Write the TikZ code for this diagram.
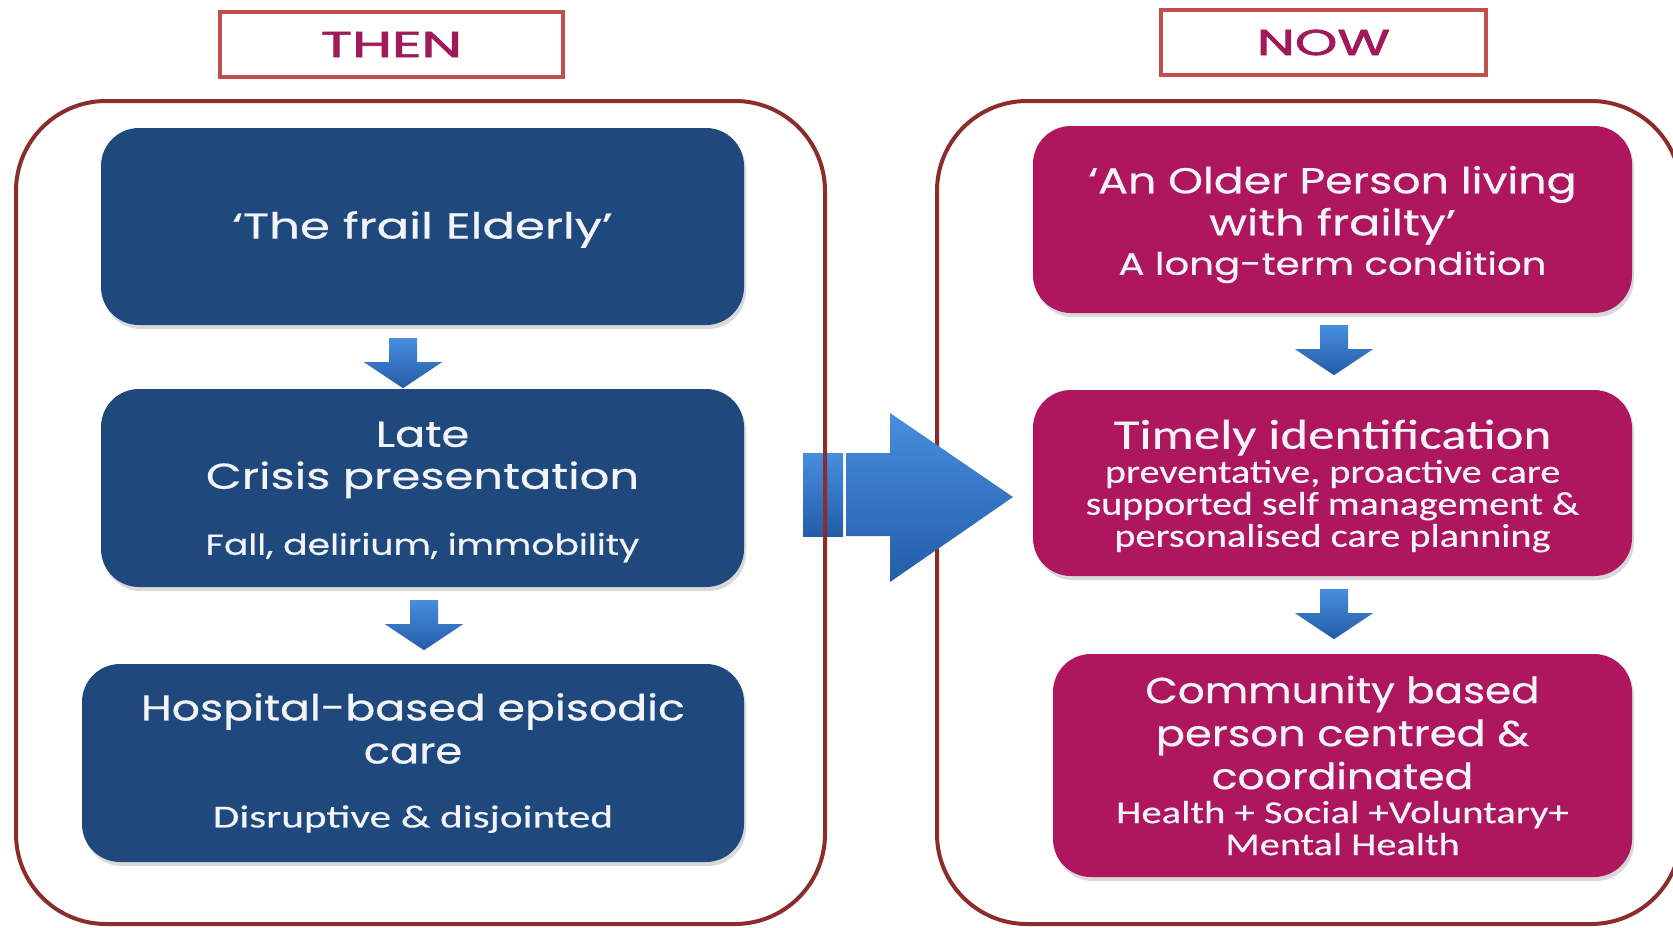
\documentclass[tikz,border=0pt]{standalone}
\usepackage{fontspec}
\setmainfont{Poppins}[FakeBold=0.5]
\newfontfamily\tagfont{Poppins}[FakeBold=1.8]
\newfontfamily\calib{Carlito}[FakeBold=0.3]
\usetikzlibrary{shadows,calc}

\definecolor{boxblue}{RGB}{31,73,125}
\definecolor{boxpink}{RGB}{174,22,94}
\definecolor{panelline}{RGB}{140,45,45}
\definecolor{tagline}{RGB}{192,80,77}
\definecolor{tagtext}{RGB}{160,25,90}
\definecolor{arrtop}{RGB}{72,142,222}
\definecolor{arrbot}{RGB}{36,92,168}
\definecolor{boxtext}{RGB}{242,244,250}

% stretch a line of text horizontally
\newcommand\sx[2]{\scalebox{#1}[1]{#2}}

\tikzset{
  tag/.style={draw=tagline, line width=3.5pt, fill=white, inner sep=0pt,
    text=tagtext, font=\tagfont\fontsize{36}{40}\selectfont},
  panel/.style={draw=panelline, line width=4pt, rounded corners=90pt, inner sep=0pt},
  card/.style={rounded corners=38pt, inner sep=0pt,
    drop shadow={shadow xshift=2pt, shadow yshift=-4pt, opacity=0.3}},
  bluecard/.style={card, fill=boxblue},
  pinkcard/.style={card, fill=boxpink},
  cardtext/.style={align=center, text=boxtext, inner sep=0pt},
  pics/blockdown/.style={code={
    \shade[top color=arrtop, bottom color=arrbot]
      (-14,0) -- (14,0) -- (14,24) -- (39,24) -- (0,50) -- (-39,24) -- (-14,24) -- cycle;}}
}

\begin{document}
\begin{tikzpicture}[x=1pt,y=-1pt]
\useasboundingbox (0,0) rectangle (1673,927);
\clip (0,0) rectangle (1673,927);

% headings
\node[tag, minimum width=343pt, minimum height=65pt] (then) at (391.5,44.5) {\sx{1.6}{THEN}};
\node[tag, minimum width=325pt, minimum height=65pt] (now) at (1323.5,42.5) {\sx{1.5}{NOW}};

% right panel sits beneath the transition arrow
\node[panel, minimum width=744pt, minimum height=823pt] (nowpanel) at (1309,512.5) {};

% transition arrow between the two panels
\shade[top color=arrtop, bottom color=arrbot]
  (846,453) -- (890,453) -- (890,413) -- (1013,497) -- (890,582) -- (890,536) -- (846,536) -- cycle;
\shade[top color=arrtop, bottom color=arrbot] (803,453) rectangle (843,536);

% left panel
\node[panel, minimum width=809pt, minimum height=823pt] (thenpanel) at (420.5,512.5) {};

% THEN column
\node[bluecard, minimum width=643pt, minimum height=197pt] (b1) at (422.5,226.5) {};
\node[bluecard, minimum width=643pt, minimum height=198pt] (b2) at (422.5,488) {};
\node[bluecard, minimum width=662pt, minimum height=198pt] (b3) at (413,763) {};

\node[cardtext, font=\fontsize{36}{44}\selectfont] (b1t) at ($(b1)+(0,3)$)
  {\sx{1.34}{‘The frail Elderly’}};
\node[cardtext, font=\fontsize{36}{42}\selectfont] (b2t) at ($(b2)+(0,4)$)
  {\sx{1.24}{Late}\\\sx{1.29}{Crisis presentation}\\[24pt]{\fontsize{29}{42}\selectfont\sx{1.25}{Fall, delirium, immobility}}};
\node[cardtext, font=\fontsize{36}{43}\selectfont] (b3t) at ($(b3)+(0,0)$)
  {\sx{1.23}{Hospital-based episodic}\\\sx{1.2}{care}\\[21pt]{\calib\fontsize{32}{43}\selectfont\sx{1.35}{Disruptive \& disjointed}}};

\pic at ($(b1.south)+(-19.5,13)$) {blockdown};
\pic at ($(b2.south)+(1.5,13)$) {blockdown};

% NOW column
\node[pinkcard, minimum width=599pt, minimum height=187pt] (p1) at (1332.5,219.5) {};
\node[pinkcard, minimum width=599pt, minimum height=186pt] (p2) at (1332.5,483) {};
\node[pinkcard, minimum width=579pt, minimum height=223pt] (p3) at (1342.5,765.5) {};

\node[cardtext, font=\fontsize{36}{42}\selectfont] (p1t) at ($(p1)+(0,5)$)
  {\sx{1.23}{‘An Older Person living}\\\sx{1.28}{with frailty’}\\[-2.5pt]{\fontsize{31}{42}\selectfont\sx{1.25}{A long-term condition}}};
\node[cardtext, font=\calib\fontsize{33}{32}\selectfont] (p2t) at ($(p2)+(0,3)$)
  {{\fontsize{42}{32}\selectfont\sx{1.26}{Timely identification}}\\[2pt]\sx{1.22}{preventative, proactive care}\\\sx{1.21}{supported self management \&}\\\sx{1.22}{personalised care planning}};
\node[cardtext, font=\fontsize{36}{43}\selectfont] (p3t) at ($(p3)+(0,0)$)
  {\sx{1.17}{Community based}\\\sx{1.2}{person centred \&}\\\sx{1.18}{coordinated}\\[-9pt]{\calib\fontsize{32}{43}\selectfont\sx{1.27}{Health + Social +Voluntary+}}\\[-11pt]{\calib\fontsize{32}{43}\selectfont\sx{1.26}{Mental Health}}};

\pic at ($(p1.south)+(1.5,12)$) {blockdown};
\pic at ($(p2.south)+(1.5,13)$) {blockdown};
\end{tikzpicture}
\end{document}
